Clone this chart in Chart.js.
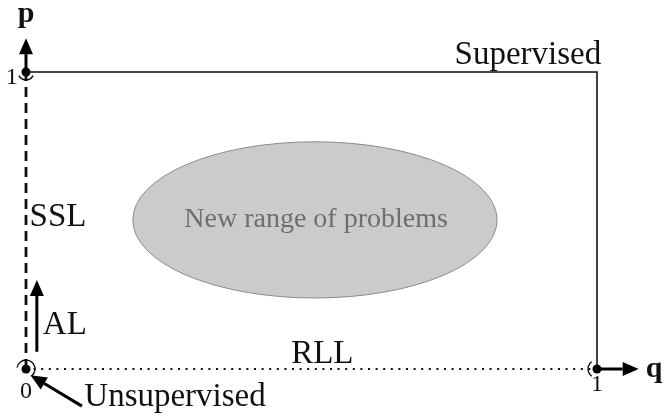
<!DOCTYPE html>
<html>
<head>
<meta charset="utf-8">
<script src="https://cdn.jsdelivr.net/npm/chart.js@4.4.0/dist/chart.umd.min.js"></script>
<style>
  body { margin: 0; background: #ffffff; }
  #diagram { display: block; }
</style>
</head>
<body>
<canvas id="diagram" width="664" height="416"></canvas>
<script>
// Punctele colțurilor spațiului (q, p)
const corners = [{ x: 0, y: 0 }, { x: 0, y: 1 }, { x: 1, y: 0 }];
// Linia "Supervised": (0,1) -> (1,1) -> (1,0)
const supervisedPath = [{ x: 0, y: 1 }, { x: 1, y: 1 }, { x: 1, y: 0 }];
// Linia punctată RLL si linia întreruptă SSL
const rllPath = [{ x: 0, y: 0 }, { x: 1, y: 0 }];
const sslPath = [{ x: 0, y: 0 }, { x: 0, y: 1 }];
// Elipsa "New range of problems": centru + raze (în unități de date)
const regionCenter = { x: 0.506, y: 0.502 };
const regionRadius = { x: 0.319, y: 0.263 };
// Săgeți: [de la, la]
const arrows = [
    [{ x: 0, y: 1 }, { x: 0, y: 1.114 }],
    [{ x: 1, y: 0 }, { x: 1.073, y: 0 }],
    [{ x: 0.019, y: 0.058 }, { x: 0.019, y: 0.30 }],
    [{ x: 0.098, y: -0.125 }, { x: 0.008, y: -0.021 }]
];
// Etichete
const labels = [
    { text: "p", x: 0, y: 1.195, bold: true, size: 30 },
    { text: "q", x: 1.1, y: 0, bold: true, size: 30 },
    { text: "1", x: -0.025, y: 0.98, size: 24 },
    { text: "0", x: 0, y: -0.078, size: 24 },
    { text: "1", x: 1.0, y: -0.054, size: 24 },
    { text: "Supervised", x: 0.879, y: 1.057, size: 33 },
    { text: "SSL", x: 0.056, y: 0.51, size: 33 },
    { text: "AL", x: 0.068, y: 0.148, size: 33 },
    { text: "RLL", x: 0.519, y: 0.05, size: 33 },
    { text: "Unsupervised", x: 0.261, y: -0.095, size: 33 },
    { text: "New range of problems", x: 0.508, y: 0.502, size: 28, color: "#6e6e6e" }
];

const xMin = -26 / 571, xMax = 638 / 571;
const yMin = -47 / 297, yMax = 369 / 297;

const overlay = {
    id: "overlay",
    beforeDatasetsDraw(chart) {
        const { ctx, scales: { x, y } } = chart;
        const cx = x.getPixelForValue(regionCenter.x);
        const cy = y.getPixelForValue(regionCenter.y);
        const rx = x.getPixelForValue(regionCenter.x + regionRadius.x) - cx;
        const ry = cy - y.getPixelForValue(regionCenter.y + regionRadius.y);
        ctx.save();
        ctx.beginPath();
        ctx.ellipse(cx, cy, rx, ry, 0, 0, Math.PI * 2);
        ctx.fillStyle = "#cbcbcb";
        ctx.fill();
        ctx.strokeStyle = "#8a8a8a";
        ctx.lineWidth = 1;
        ctx.stroke();
        ctx.restore();
    },
    afterDatasetsDraw(chart) {
        const { ctx, scales: { x, y } } = chart;
        ctx.save();
        ctx.strokeStyle = "#000";
        ctx.fillStyle = "#000";

        // Săgețile
        arrows.forEach(([a, b]) => {
            const x1 = x.getPixelForValue(a.x), y1 = y.getPixelForValue(a.y);
            const x2 = x.getPixelForValue(b.x), y2 = y.getPixelForValue(b.y);
            const ang = Math.atan2(y2 - y1, x2 - x1);
            const len = 16, half = 7;
            const bx = x2 - len * Math.cos(ang), by = y2 - len * Math.sin(ang);
            ctx.lineWidth = 3;
            ctx.beginPath();
            ctx.moveTo(x1, y1);
            ctx.lineTo(bx, by);
            ctx.stroke();
            ctx.beginPath();
            ctx.moveTo(x2, y2);
            ctx.lineTo(bx + half * Math.sin(ang), by - half * Math.cos(ang));
            ctx.lineTo(bx - half * Math.sin(ang), by + half * Math.cos(ang));
            ctx.closePath();
            ctx.fill();
        });

        // Arcele de lângă colțuri
        ctx.lineWidth = 1.3;
        const ox = x.getPixelForValue(0), oy = y.getPixelForValue(0);
        const tx = x.getPixelForValue(0), ty = y.getPixelForValue(1);
        const qx = x.getPixelForValue(1), qy = y.getPixelForValue(0);
        ctx.beginPath();
        ctx.arc(tx, ty, 8, 0.15 * Math.PI, 0.85 * Math.PI);
        ctx.stroke();
        ctx.beginPath();
        ctx.arc(ox, oy, 9, -0.95 * Math.PI, 0.3 * Math.PI);
        ctx.stroke();
        ctx.beginPath();
        ctx.arc(qx, qy, 9, 0.7 * Math.PI, 1.3 * Math.PI);
        ctx.stroke();

        // Textele
        ctx.textAlign = "center";
        ctx.textBaseline = "middle";
        labels.forEach(l => {
            ctx.font = (l.bold ? "bold " : "") + l.size + "px 'Liberation Serif', serif";
            ctx.fillStyle = l.color || "#111";
            ctx.fillText(l.text, x.getPixelForValue(l.x), y.getPixelForValue(l.y));
        });
        ctx.restore();
    }
};

const ctx = document.getElementById("diagram").getContext("2d");
const chart = new Chart(ctx, {
    type: "scatter",
    data: {
        datasets: [
            {
                data: supervisedPath, showLine: true, borderColor: "#111",
                borderWidth: 1.6, pointRadius: 0, tension: 0
            },
            {
                data: sslPath, showLine: true, borderColor: "#111",
                borderWidth: 2.8, borderDash: [10, 6], pointRadius: 0
            },
            {
                data: rllPath, showLine: true, borderColor: "#111",
                borderWidth: 2, borderDash: [2, 5.6], pointRadius: 0
            },
            {
                data: corners, pointRadius: 4.5, pointBackgroundColor: "#000",
                pointBorderWidth: 0, showLine: false
            }
        ]
    },
    options: {
        responsive: false,
        animation: false,
        layout: { padding: 0, autoPadding: false },
        plugins: { legend: { display: false }, tooltip: { enabled: false } },
        scales: {
            x: { type: "linear", min: xMin, max: xMax, display: false },
            y: { type: "linear", min: yMin, max: yMax, display: false }
        }
    },
    plugins: [overlay]
});
</script>
</body>
</html>
